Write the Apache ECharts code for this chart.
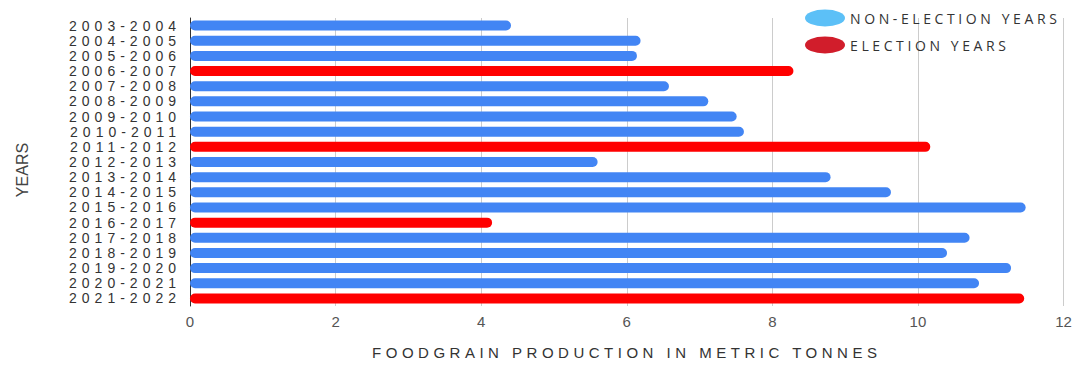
<!DOCTYPE html>
<html>
<head>
<meta charset="utf-8">
<script src="https://cdn.jsdelivr.net/npm/echarts@6/dist/echarts.min.js"></script>
<style>
  html, body { margin: 0; padding: 0; background: #fff; }
  #chart { width: 1078px; height: 365px; }
</style>
</head>
<body>
<div id="chart"></div>
<script>
// Foodgrain production per crop year
const years = [
  '2003-2004', '2004-2005', '2005-2006', '2006-2007', '2007-2008',
  '2008-2009', '2009-2010', '2010-2011', '2011-2012', '2012-2013',
  '2013-2014', '2014-2015', '2015-2016', '2016-2017', '2017-2018',
  '2018-2019', '2019-2020', '2020-2021', '2021-2022'
];
const production = [
  4.41, 6.19, 6.14, 8.29, 6.58,
  7.12, 7.51, 7.61, 10.17, 5.60,
  8.80, 9.63, 11.48, 4.15, 10.71,
  10.40, 11.28, 10.84, 11.46
];
const electionYears = ['2006-2007', '2011-2012', '2016-2017', '2021-2022'];

const seriesNames = ['NON-ELECTION YEARS', 'ELECTION YEARS'];
const xTitle = 'FOODGRAIN PRODUCTION IN METRIC TONNES';
const yTitle = 'YEARS';

const nonElection = years.map((y, i) => electionYears.includes(y) ? null : production[i]);
const election = years.map((y, i) => electionYears.includes(y) ? production[i] : null);

const ellipse = 'path://M0,1A1,1 0 1,1 2,1A1,1 0 1,1 0,1Z';

const chart = echarts.init(document.getElementById('chart'), null, { renderer: 'svg' });

chart.setOption({
  animation: false,
  textStyle: { fontFamily: 'Liberation Sans, Arial, sans-serif' },
  grid: { left: 190, right: 14.5, top: 18, bottom: 58 },
  legend: {
    orient: 'vertical',
    left: 800,
    top: 4.5,
    itemWidth: 40,
    itemHeight: 17,
    itemGap: 10,
    icon: ellipse,
    symbolKeepAspect: false,
    textStyle: { fontFamily: 'Open Sans, sans-serif', fontSize: 14, color: '#333' },
    data: [
      { name: seriesNames[0], itemStyle: { color: '#5cc0f7' } },
      { name: seriesNames[1], itemStyle: { color: '#d11d2b' } }
    ]
  },
  xAxis: {
    type: 'value',
    min: 0,
    max: 12,
    interval: 2,
    name: xTitle,
    nameLocation: 'middle',
    nameGap: 39,
    nameTextStyle: { fontSize: 15, color: '#333' },
    axisLine: { show: false },
    axisTick: { show: false },
    axisLabel: { fontSize: 15, color: '#555', margin: 8 },
    splitLine: { show: true, lineStyle: { color: '#cccccc', width: 1 } }
  },
  yAxis: {
    type: 'category',
    inverse: true,
    data: years,
    name: yTitle,
    nameLocation: 'middle',
    nameGap: 160,
    nameRotate: 90,
    nameTextStyle: {
      fontFamily: 'Liberation Sans Narrow, Liberation Sans, sans-serif',
      fontSize: 16,
      color: '#444',
      padding: [0, 16, 0, 0]
    },
    axisLine: { show: true, lineStyle: { color: '#333', width: 1 } },
    axisTick: { show: false },
    axisLabel: { fontSize: 14, color: '#333', margin: 9, interval: 0 }
  },
  series: [
    {
      name: seriesNames[0],
      type: 'bar',
      data: nonElection,
      barWidth: 10,
      barGap: '-100%',
      itemStyle: { color: '#4285f4', borderRadius: 5 }
    },
    {
      name: seriesNames[1],
      type: 'bar',
      data: election,
      barWidth: 10,
      barGap: '-100%',
      itemStyle: { color: '#ff0000', borderRadius: 5 }
    }
  ]
});

// Wide tracking for the category labels, axis title and legend entries
function spaceText() {
  document.querySelectorAll('#chart svg text').forEach(t => {
    const s = t.textContent;
    let ls = 0;
    if (/^\d{4}-\d{4}$/.test(s)) ls = 5;
    else if (s === xTitle) ls = 4.5;
    else if (seriesNames.includes(s)) ls = 3.6;
    if (ls) t.setAttribute('letter-spacing', ls);
  });
}
chart.on('finished', spaceText);
spaceText();
</script>
</body>
</html>
